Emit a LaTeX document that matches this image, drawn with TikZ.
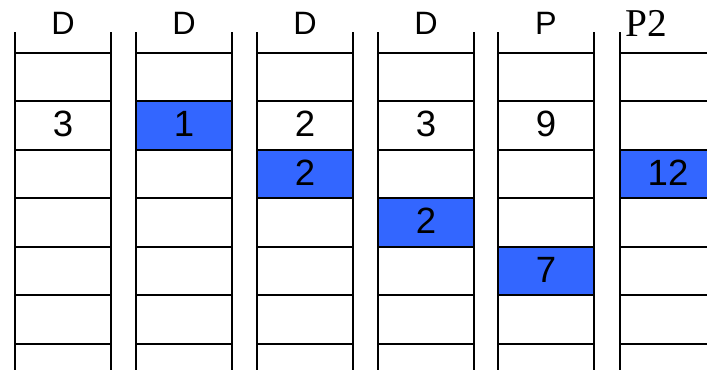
\documentclass[tikz,border=0pt]{standalone}
\usepackage{fontspec}
\setmainfont{Liberation Sans}
\newfontfamily\serifhead{Liberation Serif}
\definecolor{cellblue}{RGB}{51,102,255}

\begin{document}
\begin{tikzpicture}[x=0.025cm,y=-0.025cm,
  rail/.style={line width=1.4pt},
  rung/.style={line width=1.2pt},
  entry/.style={font=\fontsize{26}{30}\selectfont, inner sep=0pt},
  headtext/.style={font=\fontsize{23}{27}\selectfont, inner sep=0pt}]
  \clip (0,0) rectangle (707,370);

  % blue cells first, the rungs go over them
  \foreach \x/\y in {136/101, 257/150, 378/198, 498/247, 620/150}
    \fill[cellblue] (\x,\y) rectangle (\x+96,\y+48);

  % five full ladders
  \foreach \x/\head [count=\i] in {15/D, 136/D, 257/D, 378/D, 498/P} {
    \draw[rail] (\x,32) -- (\x,370);
    \draw[rail] (\x+96,32) -- (\x+96,370);
    \foreach \y in {53,101,150,198,247,295,344}
      \draw[rung] (\x,\y) -- (\x+96,\y);
    \node[headtext] (head\i) at (\x+48,23.5) {\head};
  }

  % last ladder, cut at the right edge
  \draw[rail] (620,32) -- (620,370);
  \foreach \y in {53,101,150,198,247,295,344}
    \draw[rung] (620,\y) -- (720,\y);
  \node[headtext, font=\serifhead\fontsize{28}{32}\selectfont, anchor=west] (head6) at (625,23) {P2};

  % cell values
  \foreach \x/\y/\val [count=\i] in {
    15/101/3,
    136/101/1,
    257/101/2,
    257/150/2,
    378/101/3,
    378/198/2,
    498/101/9,
    498/247/7,
    620/150/12
  }{
    \node[entry] (cell\i) at (\x+48,\y+22.5) {\val};
  }
\end{tikzpicture}
\end{document}
